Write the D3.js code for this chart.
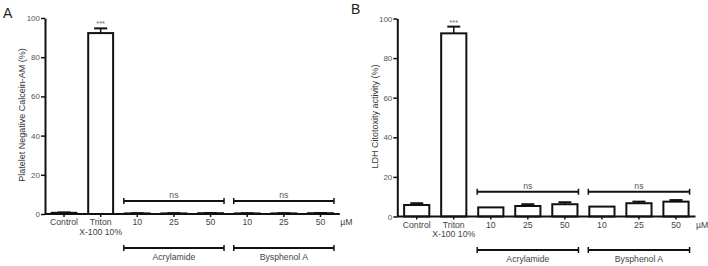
<!DOCTYPE html>
<html>
<head>
<meta charset="utf-8">
<script src="https://cdn.jsdelivr.net/npm/d3@7"></script>
<style>
  body { margin: 0; background: #fff; }
  svg { font-family: 'Liberation Sans', Arial, sans-serif; }
  text { fill: #333; }
</style>
</head>
<body>
<svg width="708" height="266"></svg>
<script>
// values
let categories = ['Control', 'Triton', 'Acr 10', 'Acr 25', 'Acr 50', 'BPA 10', 'BPA 25', 'BPA 50']
let tickLabels = ['Control', 'Triton', '10', '25', '50', '10', '25', '50']
let plateletValues = [0.6, 92.3, 0.3, 0.3, 0.4, 0.3, 0.3, 0.4]
let plateletErrors = [0.2, 2.4, 0.1, 0.1, 0.1, 0.1, 0.1, 0.1]
let ldhValues = [5.8, 92.5, 4.6, 5.3, 6.2, 5.0, 6.7, 7.5]
let ldhErrors = [0.9, 3.4, 0, 0.9, 1.0, 0, 0.8, 0.8]
let yTicks = [0, 20, 40, 60, 80, 100]
let groups = [
  { name: 'Acrylamide', first: 'Acr 10', last: 'Acr 50' },
  { name: 'Bysphenol A', first: 'BPA 10', last: 'BPA 50' }
]

let svg = d3.select('svg')

let panels = [
  {
    letter: 'A', letterX: 3, letterY: 18,
    label: 'Platelet Negative Calcein-AM (%)', labelX: 22,
    axisX: 45, xRange: [45.7, 338.8], yRange: [214, 18],
    values: plateletValues, errors: plateletErrors,
    nsLevel: 6.6, groupY: 248
  },
  {
    letter: 'B', letterX: 351, letterY: 14,
    label: 'LDH Citotoxity activity (%)', labelX: 375,
    axisX: 397.3, xRange: [398.2, 694.5], yRange: [216.5, 18.5],
    values: ldhValues, errors: ldhErrors,
    nsLevel: 12.5, groupY: 250
  }
]

let pad = 0.32

panels.forEach(p => {
  let xScale = d3.scaleBand()
    .domain(categories)
    .range(p.xRange)
    .paddingInner(pad)
    .paddingOuter(pad / 2)

  let yScale = d3.scaleLinear()
    .domain([0, 100])
    .range(p.yRange)

  let g = svg.append('g')

  g.append('text')
    .attr('x', p.letterX)
    .attr('y', p.letterY)
    .attr('font-size', 14)
    .style('fill', '#222')
    .text(p.letter)

  // y axis
  let yAxis = d3.axisLeft(yScale)
    .tickValues(yTicks)
    .tickSize(4)
    .tickSizeOuter(0)
    .tickPadding(1)

  let ya = g.append('g')
    .attr('transform', 'translate(' + [p.axisX, 0] + ')')
    .call(yAxis)
  ya.select('.domain').attr('stroke', '#111').attr('stroke-width', 2)
  ya.selectAll('.tick line').attr('stroke', '#111').attr('stroke-width', 1.5)
  ya.selectAll('.tick text').attr('font-size', 8).style('fill', '#555')

  let midY = (p.yRange[0] + p.yRange[1]) / 2 - 1
  g.append('text')
    .attr('transform', 'translate(' + [p.labelX, midY] + ') rotate(-90)')
    .attr('text-anchor', 'middle')
    .attr('dy', '0.35em')
    .attr('font-size', 9)
    .text(p.label)

  // bars
  g.selectAll('rect.bar')
    .data(categories)
    .join('rect')
    .attr('class', 'bar')
    .attr('x', d => xScale(d))
    .attr('width', xScale.bandwidth())
    .attr('y', (d, i) => yScale(p.values[i]))
    .attr('height', (d, i) => yScale(0) - yScale(p.values[i]))
    .attr('fill', '#fff')
    .attr('stroke', '#111')
    .attr('stroke-width', 2)

  // error bars (upper only)
  let cap = 6.5
  let err = g.selectAll('g.err')
    .data(categories.filter((d, i) => p.errors[i] > 0))
    .join('g')
    .attr('class', 'err')
  err.append('line')
    .attr('x1', d => xScale(d) + xScale.bandwidth() / 2)
    .attr('x2', d => xScale(d) + xScale.bandwidth() / 2)
    .attr('y1', d => yScale(p.values[categories.indexOf(d)]))
    .attr('y2', d => { let i = categories.indexOf(d); return yScale(p.values[i] + p.errors[i]) })
    .attr('stroke', '#111')
    .attr('stroke-width', 1.5)
  err.append('line')
    .attr('x1', d => xScale(d) + xScale.bandwidth() / 2 - cap)
    .attr('x2', d => xScale(d) + xScale.bandwidth() / 2 + cap)
    .attr('y1', d => { let i = categories.indexOf(d); return yScale(p.values[i] + p.errors[i]) })
    .attr('y2', d => { let i = categories.indexOf(d); return yScale(p.values[i] + p.errors[i]) })
    .attr('stroke', '#111')
    .attr('stroke-width', 2)

  // significance stars over Triton
  let ti = categories.indexOf('Triton')
  g.append('text')
    .attr('x', xScale('Triton') + xScale.bandwidth() / 2)
    .attr('y', yScale(p.values[ti] + p.errors[ti]) - 2)
    .attr('text-anchor', 'middle')
    .attr('font-size', 7.5)
    .style('fill', '#666')
    .text('***')

  // x axis
  let xAxis = d3.axisBottom(xScale)
    .tickSize(3)
    .tickSizeOuter(0)
    .tickPadding(2)
    .tickFormat((d, i) => tickLabels[i])

  let xa = g.append('g')
    .attr('transform', 'translate(' + [0, yScale(0)] + ')')
    .call(xAxis)
  xa.select('.domain')
    .attr('d', 'M' + p.axisX + ',0H' + (p.xRange[1] + 1))
    .attr('stroke', '#111').attr('stroke-width', 2)
  xa.selectAll('.tick line').attr('stroke', '#111').attr('stroke-width', 1.5)
  xa.selectAll('.tick text').attr('font-size', 8.7).style('fill', '#444')
  xa.selectAll('.tick text')
    .filter(d => d === 'Triton')
    .append('tspan')
    .attr('x', 0)
    .attr('dy', '1.1em')
    .text('X-100 10%')

  g.append('text')
    .attr('x', p.xRange[1] + 1.5)
    .attr('y', yScale(0) + 5)
    .attr('dy', '0.71em')
    .attr('font-size', 8.7)
    .style('fill', '#444')
    .text('\u00b5M')

  // group brackets: ns above, group name below
  groups.forEach(gr => {
    let x0 = xScale(gr.first) - 1
    let x1 = xScale(gr.last) + xScale.bandwidth() + 1
    let yTop = yScale(p.nsLevel)
    ;[yTop, p.groupY].forEach(yy => {
      g.append('line')
        .attr('x1', x0).attr('x2', x1)
        .attr('y1', yy).attr('y2', yy)
        .attr('stroke', '#111').attr('stroke-width', 2)
      ;[x0, x1].forEach(xx => {
        g.append('line')
          .attr('x1', xx).attr('x2', xx)
          .attr('y1', yy - 3).attr('y2', yy + 3)
          .attr('stroke', '#111').attr('stroke-width', 1.5)
      })
    })
    g.append('text')
      .attr('x', (x0 + x1) / 2)
      .attr('y', yTop - 3)
      .attr('text-anchor', 'middle')
      .attr('font-size', 8.7)
      .style('fill', '#555')
      .text('ns')
    g.append('text')
      .attr('x', (x0 + x1) / 2)
      .attr('y', p.groupY + 6)
      .attr('dy', '0.71em')
      .attr('text-anchor', 'middle')
      .attr('font-size', 8.7)
      .style('fill', '#444')
      .text(gr.name)
  })
})
</script>
</body>
</html>
